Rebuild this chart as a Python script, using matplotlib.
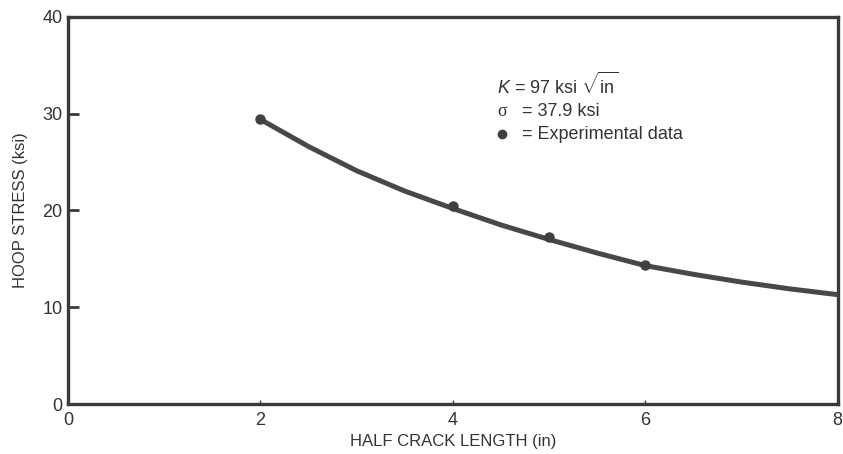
import matplotlib
matplotlib.use("Agg")
import matplotlib.pyplot as plt

plt.rcParams['font.family'] = ['Liberation Sans', 'DejaVu Sans']
plt.rcParams['mathtext.fontset'] = 'custom'
plt.rcParams['mathtext.rm'] = 'Liberation Sans'
plt.rcParams['mathtext.it'] = 'Liberation Sans:italic'

# Data
curve_x = [2.0, 2.5, 3.0, 3.5, 4.0, 4.5, 5.0, 5.5, 6.0, 6.5, 7.0, 7.5, 8.0]
curve_y = [29.4, 26.6, 24.1, 22.0, 20.2, 18.5, 17.0, 15.6, 14.3, 13.4, 12.6, 11.9, 11.3]
exp_x = [2.0, 4.0, 5.0, 6.0]
exp_y = [29.4, 20.5, 17.3, 14.4]
x_ticks = [0, 2, 4, 6, 8]
y_ticks = [0, 10, 20, 30, 40]

ink = '#3a3a3a'
fig = plt.figure(figsize=(8.43, 4.54), dpi=100)
ax = fig.add_axes([0.0807, 0.110, 0.913, 0.853])
ax.plot(curve_x, curve_y, color='#484848', lw=3.6, solid_capstyle='round', zorder=3)
ax.plot(exp_x, exp_y, 'o', color='#404040', ms=6.5, zorder=4)

ax.set_xlim(0, 8)
ax.set_ylim(0, 40)
ax.set_xticks(x_ticks)
ax.set_yticks(y_ticks)
for s in ax.spines.values():
    s.set_linewidth(2.4)
    s.set_color(ink)
ax.tick_params(axis='y', direction='in', length=8, width=2, color=ink, labelsize=13, pad=4, labelcolor='#333333')
ax.tick_params(axis='x', direction='in', length=3, width=1, color=ink, labelsize=13, pad=6, labelcolor='#333333')
ax.set_xlabel('HALF CRACK LENGTH (in)', fontsize=12, color='#333333', labelpad=3)
ax.set_ylabel('HOOP STRESS (ksi)', fontsize=12, color='#333333', labelpad=10)

# annotation
tx = 0.558
ex = 0.590
ax.text(tx, 0.825, r'$K$ = 97 ksi $\sqrt{\mathrm{in}}$', transform=ax.transAxes,
        fontsize=13, color='#333333', va='center')
ax.text(tx, 0.755, 'σ', transform=ax.transAxes, fontsize=13, color='#333333',
        va='center', family='Liberation Serif')
ax.text(ex, 0.755, '= 37.9 ksi', transform=ax.transAxes, fontsize=13,
        color='#333333', va='center')
ax.plot([0.564], [0.697], 'o', color='#404040', ms=6, transform=ax.transAxes)
ax.text(ex, 0.697, '= Experimental data', transform=ax.transAxes, fontsize=13,
        color='#333333', va='center')

fig.savefig('out.png', dpi=100)
